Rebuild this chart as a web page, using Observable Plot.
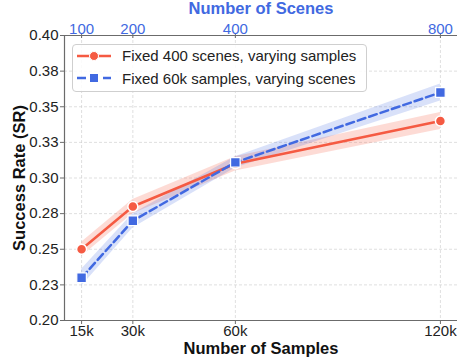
<!DOCTYPE html>
<html>
<head>
<meta charset="utf-8">
<script src="https://cdn.jsdelivr.net/npm/d3@7"></script>
<script src="https://cdn.jsdelivr.net/npm/@observablehq/plot@0.6"></script>
<style>
  body { margin: 0; background: white; font-family: "Liberation Sans", Arial, sans-serif; }
  #wrap { position: relative; width: 457px; height: 358px; overflow: hidden; }
  #legend { position: absolute; left: 72px; top: 44px; width: 293px; height: 46px;
    border: 1px solid #cfcfcf; border-radius: 4px; background: rgba(255,255,255,0.85); }
  .row { position: absolute; left: 0; height: 20px; display: flex; align-items: center; }
  .row svg { margin-left: 4px; }
  .row span { margin-left: 11px; font-size: 15px; color: #222; white-space: nowrap; }
</style>
</head>
<body>
<div id="wrap"></div>
<script>
// ---- data ----
const samples = [15000, 30000, 60000, 120000];
const sampleLabels = ["15k", "30k", "60k", "120k"];
const sceneLabels = ["100", "200", "400", "800"];
const srFixedScenes = [0.250, 0.280, 0.310, 0.340];   // Fixed 400 scenes, varying samples
const errFixedScenes = [0.005, 0.005, 0.005, 0.006];
const srFixedSamples = [0.230, 0.270, 0.311, 0.360];  // Fixed 60k samples, varying scenes
const errFixedSamples = [0.006, 0.005, 0.004, 0.006];
const yTicks = [0.20, 0.225, 0.25, 0.275, 0.30, 0.325, 0.35, 0.375, 0.40];
const yTickLabels = ["0.20", "0.23", "0.25", "0.28", "0.30", "0.33", "0.35", "0.38", "0.40"];
const seriesNames = ["Fixed 400 scenes, varying samples", "Fixed 60k samples, varying scenes"];

const RED = "#F55A42";
const BLUE = "#4169E1";
const SPINE = "#6b6b6b";

const red = samples.map((x, i) => ({x, y: srFixedScenes[i], lo: srFixedScenes[i] - errFixedScenes[i], hi: srFixedScenes[i] + errFixedScenes[i]}));
const blue = samples.map((x, i) => ({x, y: srFixedSamples[i], lo: srFixedSamples[i] - errFixedSamples[i], hi: srFixedSamples[i] + errFixedSamples[i]}));

const fmtY = d => yTickLabels[yTicks.findIndex(t => Math.abs(t - d) < 1e-9)];
const fmtX = d => sampleLabels[samples.indexOf(d)];
const fmtTop = d => sceneLabels[samples.indexOf(d)];

const chart = Plot.plot({
  width: 457,
  height: 358,
  marginLeft: 64,
  marginRight: 0,
  marginTop: 35,
  marginBottom: 38,
  x: {type: "linear", domain: [10000, 125000]},
  y: {domain: [0.2, 0.4]},
  style: {fontFamily: "'Liberation Sans', Arial, sans-serif", fontSize: "15px", color: "#222", background: "white", overflow: "visible"},
  marks: [
    Plot.gridY(yTicks, {stroke: "#cccccc", strokeOpacity: 0.8, strokeDasharray: "3,2", strokeWidth: 0.8}),
    Plot.gridX(samples, {stroke: "#cccccc", strokeOpacity: 0.8, strokeDasharray: "3,2", strokeWidth: 0.8}),
    Plot.areaY(red, {x: "x", y1: "lo", y2: "hi", fill: RED, fillOpacity: 0.22}),
    Plot.areaY(blue, {x: "x", y1: "lo", y2: "hi", fill: BLUE, fillOpacity: 0.2}),
    Plot.lineY(red, {x: "x", y: "y", stroke: RED, strokeWidth: 2.5}),
    Plot.dot(red, {x: "x", y: "y", r: 5, fill: RED, stroke: "white", strokeWidth: 1.5}),
    Plot.lineY(blue, {x: "x", y: "y", stroke: BLUE, strokeWidth: 2.5, strokeDasharray: "8,4"}),
    Plot.dot(blue, {x: "x", y: "y", symbol: "square", r: 5.4, fill: BLUE, stroke: "white", strokeWidth: 1.2}),
    Plot.ruleX([10000], {stroke: SPINE, strokeWidth: 1.2}),
    Plot.ruleY([0.2], {stroke: SPINE, strokeWidth: 1.2}),
    Plot.ruleY([0.4], {stroke: SPINE, strokeWidth: 1.2}),
    Plot.axisY(yTicks, {tickFormat: fmtY, tickSize: 4, tickPadding: 2, label: null, stroke: SPINE, fill: "#222", fontSize: 15}),
    Plot.axisX(samples, {anchor: "bottom", tickFormat: fmtX, tickSize: 4, tickPadding: 1, label: null, stroke: SPINE, fill: "#222", fontSize: 15}),
    Plot.axisX(samples, {anchor: "top", tickFormat: fmtTop, tickSize: 4, tickPadding: 0, label: null, stroke: SPINE, fill: BLUE, fontSize: 15, dy: 2}),
    Plot.text(["Number of Samples"], {frameAnchor: "bottom", lineAnchor: "middle", textAnchor: "middle", dy: 28.5, fontWeight: "bold", fontSize: 16.5, fill: "#111"}),
    Plot.text(["Number of Scenes"], {frameAnchor: "top", lineAnchor: "middle", textAnchor: "middle", dy: -26.5, fontWeight: "bold", fontSize: 16.5, fill: BLUE}),
    Plot.text(["Success Rate (SR)"], {frameAnchor: "left", lineAnchor: "middle", textAnchor: "middle", dx: -45, rotate: -90, fontWeight: "bold", fontSize: 16.5, fill: "#111"})
  ]
});

const wrap = document.getElementById("wrap");
wrap.appendChild(chart);

const legend = document.createElement("div");
legend.id = "legend";
const swatches = [
  `<svg width="34" height="12"><line x1="0" y1="6" x2="34" y2="6" stroke="${RED}" stroke-width="2.5"/><circle cx="17" cy="6" r="4.5" fill="${RED}" stroke="white" stroke-width="1"/></svg>`,
  `<svg width="34" height="12"><line x1="0" y1="6" x2="34" y2="6" stroke="${BLUE}" stroke-width="2.5" stroke-dasharray="9,4"/><rect x="12.5" y="1.5" width="9" height="9" fill="${BLUE}" stroke="white" stroke-width="1"/></svg>`
];
seriesNames.forEach((name, i) => {
  const row = document.createElement("div");
  row.className = "row";
  row.style.top = (i === 0 ? 0.5 : 23) + "px";
  row.innerHTML = swatches[i] + `<span>${name}</span>`;
  legend.appendChild(row);
});
wrap.appendChild(legend);
</script>
</body>
</html>
